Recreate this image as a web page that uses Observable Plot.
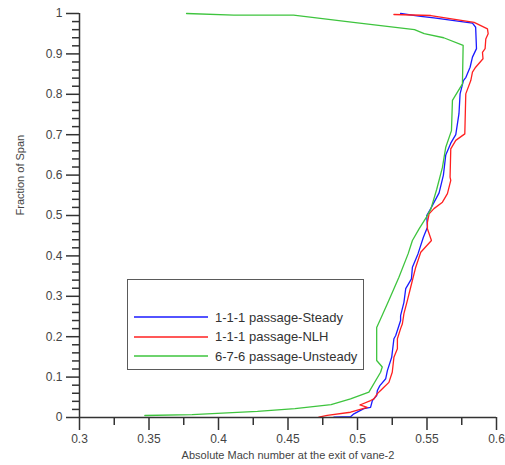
<!DOCTYPE html>
<html>
<head>
<meta charset="utf-8">
<script src="https://cdn.jsdelivr.net/npm/d3@7"></script>
<script src="https://cdn.jsdelivr.net/npm/@observablehq/plot@0.6"></script>
<style>
  html, body { margin: 0; padding: 0; background: #fff; }
  #wrap { position: relative; width: 505px; height: 465px; font-family: "Liberation Sans", Arial, sans-serif; }
  #legend { position: absolute; left: 127px; top: 279px; width: 237px; height: 91px; border: 1.6px solid #5a5a5a; background: #fff; box-sizing: border-box; }
  .row { position: absolute; left: 6px; height: 20px; display: flex; align-items: center; font-size: 13px; color: #333; }
  .row svg { margin-right: 7px; }
</style>
</head>
<body>
<div id="wrap"></div>
<script>
// ---- data ----
const seriesNames = ["1-1-1 passage-Steady", "1-1-1 passage-NLH", "6-7-6 passage-Unsteady"];
const seriesColors = ["#1a1aff", "#ff2020", "#3ec43e"];

const steadyMach = [0.483,0.495,0.4974,0.5046,0.5094,0.5107,0.5138,0.5143,0.5161,0.5203,0.5215,0.5246,0.5262,0.5275,0.531,0.531,0.5334,0.5347,0.5388,0.5395,0.5435,0.5474,0.5503,0.5498,0.5527,0.5539,0.5587,0.5618,0.5635,0.5671,0.5707,0.573,0.5738,0.5762,0.578,0.581,0.5827,0.5856,0.585,0.5827,0.555,0.5455,0.531];
const steadySpan = [0.001,0.002,0.009,0.022,0.025,0.042,0.054,0.067,0.079,0.096,0.116,0.149,0.195,0.203,0.240,0.252,0.285,0.319,0.343,0.372,0.405,0.446,0.471,0.500,0.517,0.525,0.556,0.600,0.650,0.679,0.700,0.752,0.801,0.834,0.842,0.867,0.892,0.913,0.966,0.976,0.989,0.993,1.0];

const nlhMach = [0.4722,0.4782,0.495,0.507,0.5017,0.5094,0.5118,0.5143,0.5166,0.519,0.5226,0.525,0.5262,0.5287,0.5287,0.531,0.5323,0.5334,0.5359,0.5383,0.5419,0.5455,0.5532,0.5503,0.5503,0.5515,0.555,0.5611,0.5647,0.5671,0.5666,0.5671,0.5707,0.5772,0.5779,0.5815,0.5827,0.585,0.5903,0.5899,0.5918,0.5923,0.594,0.5935,0.5839,0.5527,0.5262];
const nlhSpan = [0.001,0.005,0.013,0.025,0.031,0.042,0.046,0.059,0.067,0.075,0.087,0.112,0.149,0.170,0.195,0.220,0.232,0.257,0.290,0.323,0.372,0.409,0.438,0.467,0.483,0.504,0.517,0.533,0.554,0.587,0.595,0.665,0.686,0.702,0.801,0.834,0.855,0.867,0.888,0.904,0.913,0.937,0.950,0.962,0.978,0.995,0.9975];

const unsteadyMach = [0.347,0.381,0.428,0.455,0.481,0.495,0.5082,0.5166,0.5178,0.5138,0.5138,0.5161,0.5226,0.5298,0.5364,0.5395,0.5443,0.5496,0.5527,0.557,0.5611,0.5635,0.5676,0.5683,0.5755,0.576,0.562,0.548,0.541,0.497,0.454,0.411,0.377];
const unsteadySpan = [0.005,0.007,0.015,0.022,0.032,0.046,0.063,0.112,0.125,0.141,0.223,0.240,0.290,0.347,0.405,0.438,0.467,0.496,0.515,0.565,0.619,0.669,0.710,0.785,0.826,0.921,0.940,0.950,0.960,0.978,0.996,0.996,1.0];

const xMajor = [0.3,0.35,0.4,0.45,0.5,0.55,0.6];
const xMinor = [0.325,0.375,0.425,0.475,0.525,0.575];
const yMajor = [0,0.1,0.2,0.3,0.4,0.5,0.6,0.7,0.8,0.9,1];
const yMinor = d3.range(0, 50).map(i => i * 0.02).filter(v => Math.abs(v * 10 - Math.round(v * 10)) > 1e-6);

const xLabel = "Absolute Mach number at the exit of vane-2";
const yLabel = "Fraction of Span";

// ---- build table ----
const mk = (xs, ys, s) => xs.map((x, i) => ({mach: x, span: ys[i], series: s}));
const data = [
  ...mk(steadyMach, steadySpan, seriesNames[0]),
  ...mk(nlhMach, nlhSpan, seriesNames[1]),
  ...mk(unsteadyMach, unsteadySpan, seriesNames[2])
];

const axisColor = "#333";
const labelColor = "#444";

const chart = Plot.plot({
  width: 505,
  height: 465,
  marginLeft: 79,
  marginRight: 9,
  marginTop: 13,
  marginBottom: 48,
  style: {fontFamily: "'Liberation Sans', Arial, sans-serif", fontSize: "12px", background: "#fff", overflow: "visible"},
  x: {domain: [0.3, 0.6]},
  y: {domain: [0, 1]},
  color: {domain: seriesNames, range: seriesColors},
  marks: [
    Plot.line(data, {x: "mach", y: "span", z: "series", stroke: "series", strokeWidth: 1.3, curve: "linear"}),
    Plot.axisX({ticks: xMajor, tickSize: 13, tickPadding: 4, tickFormat: d => String(+d.toFixed(2)), stroke: axisColor, strokeWidth: 1.5, fill: labelColor, fontSize: 12, label: null}),
    Plot.axisX({ticks: xMinor, tickSize: 8, tickFormat: () => "", stroke: axisColor, strokeWidth: 1.5, label: null}),
    Plot.axisY({ticks: yMajor, tickSize: 13, tickPadding: 4, tickFormat: d => String(+d.toFixed(1)), stroke: axisColor, strokeWidth: 1.5, fill: labelColor, fontSize: 12, label: null}),
    Plot.axisY({ticks: yMinor, tickSize: 7, tickFormat: () => "", stroke: axisColor, strokeWidth: 1.5, label: null}),
    Plot.ruleX([0.3], {stroke: axisColor, strokeWidth: 1.5}),
    Plot.ruleY([0], {stroke: axisColor, strokeWidth: 1.5}),
    Plot.text([xLabel], {frameAnchor: "bottom", dy: 41, fontSize: 11, fill: labelColor}),
    Plot.text([yLabel], {frameAnchor: "left", dx: -59, rotate: -90, fontSize: 11, fill: labelColor})
  ]
});

const wrap = document.getElementById("wrap");
wrap.appendChild(chart);

const legend = document.createElement("div");
legend.id = "legend";
const NS = "http://www.w3.org/2000/svg";
seriesNames.forEach((name, i) => {
  const row = document.createElement("div");
  row.className = "row";
  row.style.top = (27 + i * 19.5) + "px";
  const sw = document.createElementNS(NS, "svg");
  sw.setAttribute("width", "74");
  sw.setAttribute("height", "4");
  const ln = document.createElementNS(NS, "line");
  ln.setAttribute("x1", "0"); ln.setAttribute("x2", "74");
  ln.setAttribute("y1", "2"); ln.setAttribute("y2", "2");
  ln.setAttribute("stroke", seriesColors[i]);
  ln.setAttribute("stroke-width", "1.3");
  sw.appendChild(ln);
  row.appendChild(sw);
  row.appendChild(document.createTextNode(name));
  legend.appendChild(row);
});
wrap.appendChild(legend);
</script>
</body>
</html>
